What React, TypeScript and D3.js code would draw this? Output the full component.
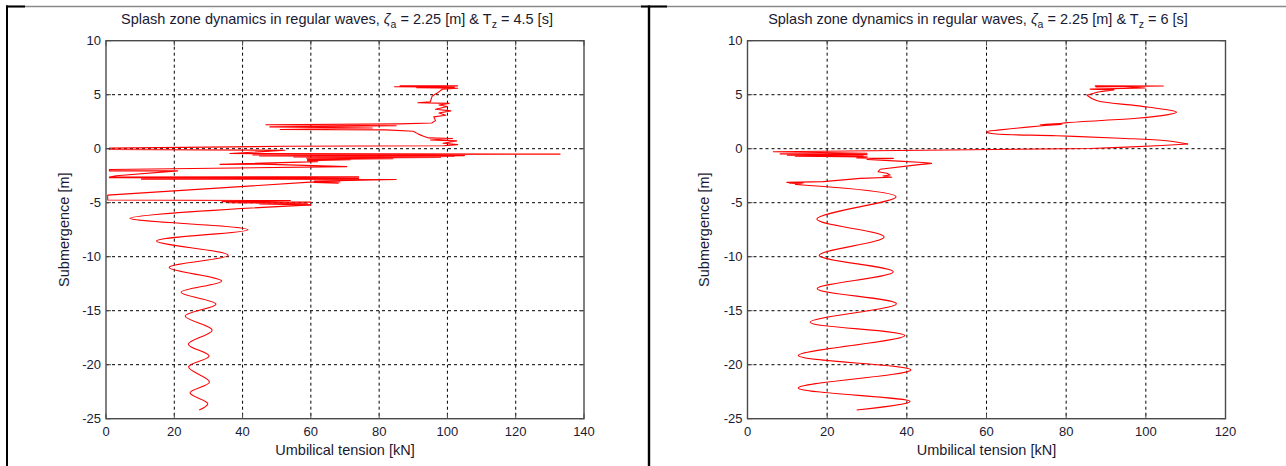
import React from "react";
import * as d3 from "d3";

type Pt = [number, number];

// ---------- data (tension kN, submergence m) ----------
const yTickValues = [10, 5, 0, -5, -10, -15, -20, -25];
const leftXTickValues = [0, 20, 40, 60, 80, 100, 120, 140];
const rightXTickValues = [0, 20, 40, 60, 80, 100, 120];

const leftTitleTz = "4.5";
const rightTitleTz = "6";

// left panel (Tz = 4.5 s): splash zone part (jagged) then submerged wave
const leftSplash: Pt[] = [
  [86, 5.82], [103, 5.82], [84.5, 5.74], [102, 5.7], [91, 5.64], [103, 5.6], [98.5, 5.5], [97, 5.15],
  [95.5, 4.85], [95, 4.35], [91.3, 4.25], [100.5, 4.2], [97.5, 4.05], [100, 3.9], [96.5, 3.65], [101, 3.5],
  [97.5, 3.3], [99.5, 3.1], [96, 2.95], [96.5, 2.6], [95.4, 2.38], [86, 2.3], [46.8, 2.22], [85, 2.12],
  [48, 2.02], [78, 1.92], [51, 1.78], [82, 1.74], [90, 1.62], [91.5, 1.35], [93, 1.15], [94.5, 1.0],
  [101.5, 0.95], [95, 0.8], [102.7, 0.72], [98.7, 0.5], [103, 0.38], [99, 0.27], [52.4, 0.22], [1, 0.05],
  [1, -0.08], [52.4, -0.14], [36.3, -0.45], [133, -0.5], [43, -0.58], [105, -0.64], [45, -0.68], [102, -0.72],
  [55, -0.77], [98, -0.8], [58.8, -0.88], [84, -0.92], [59, -1.0], [71.5, -1.02], [59, -1.1], [62, -1.2],
  [33.4, -1.45], [50, -1.44], [41, -1.38], [70.5, -1.66], [1, -1.93], [1, -2.05], [21, -2.05], [3, -2.5],
  [1, -2.63], [74, -2.6], [1, -2.68], [74, -2.72], [22.8, -2.76], [74, -2.79], [10.4, -2.82], [85, -2.85],
  [61, -3.0], [68.5, -3.08], [61, -3.13], [68, -3.2], [62, -3.05], [0.5, -4.3], [0.5, -4.75], [54, -4.8],
  [34, -4.9], [60, -4.95], [36, -5.0], [59, -5.05], [45, -5.12], [60, -5.2],
];
const leftWave: Pt[] = [
  [60, -5.2], [7, -6.45], [41.6, -7.5], [14.8, -8.55], [35.8, -9.87], [18.5, -11.0], [33.9, -12.25],
  [22, -13.3], [32.2, -14.4], [23.2, -15.5], [31.1, -16.8], [24.1, -18.1], [30.2, -19.2], [24.2, -20.2],
  [30.3, -21.6], [24.6, -22.6], [29.8, -23.6], [27.3, -24.2],
];

// right panel (Tz = 6 s)
const rightSplashTop: Pt[] = [
  [87.2, 5.82], [104.4, 5.8], [87.5, 5.72], [93.5, 5.76], [99.8, 5.62], [86, 5.52], [92, 5.45], [88, 5.25], [85.2, 4.95],
];
const rightWaveTop: Pt[] = [
  [85.2, 4.95], [87.6, 4.46], [97.7, 3.99], [106.5, 3.53], [107.7, 3.38], [105.2, 3.13], [97.7, 2.82],
  [83.5, 2.5], [78.9, 2.36], [73.4, 2.22], [79, 2.26], [73.4, 2.1], [63.4, 1.74], [60, 1.58], [60.9, 1.43],
  [77.6, 1.2], [93.5, 0.97], [105.2, 0.74], [110.6, 0.44],
];
const rightSplashMid: Pt[] = [
  [110.6, 0.44], [104, 0.3], [95, 0.15], [86, 0.02], [50, -0.12], [6.5, -0.28], [30, -0.42], [8.2, -0.48],
  [30, -0.55], [10, -0.6], [29, -0.66], [12, -0.7], [30, -0.76], [27.4, -0.86], [36.6, -0.9], [30, -1.0],
  [38, -1.15], [44, -1.28], [46.2, -1.36], [42.5, -1.5], [33.3, -1.9], [32.8, -2.13], [35, -2.28],
  [35.8, -2.44], [34, -2.53], [36.2, -2.65], [28.3, -2.75], [19, -3.05], [9.9, -3.12], [14, -3.16],
  [10.5, -3.2], [13.5, -3.26], [12, -3.32],
];
const rightWave: Pt[] = [
  [12, -3.32], [37.3, -4.45], [17.4, -6.52], [34.3, -8.17], [18, -9.87], [36.6, -11.4], [17.5, -12.96],
  [37.4, -14.35], [15.7, -16.06], [39.5, -17.3], [12.75, -19.15], [41, -20.48], [12.75, -22.15],
  [40.8, -23.4], [27.4, -24.2],
];

// ---------- drawing ----------
const W = 1286;
const H = 466;
const FONT = "'Liberation Sans', Arial, Helvetica, sans-serif";
const INK = "#1a1a33";
const BOX = "#4a4a4a";

interface Seg {
  pts: Pt[];
  smooth: boolean;
}

interface PanelProps {
  left: number;
  right: number;
  top: number;
  bottom: number;
  xMax: number;
  xTicks: number[];
  segs: Seg[];
  tz: string;
  titleX: number;
  yLabelX: number;
}

function Panel(p: PanelProps) {
  const x = d3.scaleLinear().domain([0, p.xMax]).range([p.left, p.right]);
  const y = d3.scaleLinear().domain([-25, 10]).range([p.bottom, p.top]);
  const lin = d3
    .line<Pt>()
    .x((d) => x(d[0]))
    .y((d) => y(d[1]));
  const smooth = d3
    .line<Pt>()
    .x((d) => x(d[0]))
    .y((d) => y(d[1]))
    .curve(d3.curveCatmullRom.alpha(0.5));
  const tl = 5;
  const cx = (p.left + p.right) / 2;
  const cy = (p.top + p.bottom) / 2;
  return (
    <g>
      {/* grid */}
      {p.xTicks
        .filter((t) => t > 0 && t < p.xMax)
        .map((t) => (
          <line key={"gx" + t} x1={x(t)} x2={x(t)} y1={p.top} y2={p.bottom} stroke="#000" strokeWidth={1} strokeDasharray="3,3" />
        ))}
      {yTickValues
        .filter((t) => t > -25 && t < 10)
        .map((t) => (
          <line key={"gy" + t} x1={p.left} x2={p.right} y1={y(t)} y2={y(t)} stroke="#000" strokeWidth={1} strokeDasharray="3,3" />
        ))}
      {/* data */}
      {p.segs.map((s, i) => (
        <path key={"s" + i} d={(s.smooth ? smooth : lin)(s.pts) || ""} fill="none" stroke="#ff0000" strokeWidth={1.1} strokeLinejoin="round" />
      ))}
      {/* ticks */}
      {p.xTicks.map((t) => (
        <g key={"tx" + t}>
          <line x1={x(t)} x2={x(t)} y1={p.bottom} y2={p.bottom - tl} stroke={BOX} strokeWidth={1} />
          <line x1={x(t)} x2={x(t)} y1={p.top} y2={p.top + tl} stroke={BOX} strokeWidth={1} />
          <text x={x(t)} y={p.bottom + 17} textAnchor="middle" fontSize={13} fill={INK} fontFamily={FONT}>
            {t}
          </text>
        </g>
      ))}
      {yTickValues.map((t) => (
        <g key={"ty" + t}>
          <line x1={p.left} x2={p.left + tl} y1={y(t)} y2={y(t)} stroke={BOX} strokeWidth={1} />
          <line x1={p.right} x2={p.right - tl} y1={y(t)} y2={y(t)} stroke={BOX} strokeWidth={1} />
          <text x={p.left - 5} y={y(t) + 4.7} textAnchor="end" fontSize={13} fill={INK} fontFamily={FONT}>
            {t}
          </text>
        </g>
      ))}
      {/* box */}
      <rect x={p.left} y={p.top} width={p.right - p.left} height={p.bottom - p.top} fill="none" stroke={BOX} strokeWidth={1.4} />
      {/* labels */}
      <text x={cx} y={455} textAnchor="middle" fontSize={14.5} fill={INK} fontFamily={FONT}>
        Umbilical tension [kN]
      </text>
      <text transform={`translate(${p.yLabelX},${cy}) rotate(-90)`} textAnchor="middle" fontSize={14.5} fill={INK} fontFamily={FONT}>
        Submergence [m]
      </text>
      <text x={p.titleX} y={24} textAnchor="middle" fontSize={14.5} fill={INK} fontFamily={FONT}>
        <tspan>Splash zone dynamics in regular waves, </tspan>
        <tspan fontStyle="italic">ζ</tspan>
        <tspan dy={4} fontSize={10.5}>a</tspan>
        <tspan dy={-4}> = 2.25 [m] &amp; T</tspan>
        <tspan dy={4} fontSize={10.5}>z</tspan>
        <tspan dy={-4}>{` = ${p.tz} [s]`}</tspan>
      </text>
    </g>
  );
}

export default function App() {
  return (
    <svg
      width={W}
      height={H}
      viewBox={`0 0 ${W} ${H}`}
      style={{ position: "absolute", left: 0, top: 0, background: "#fff" }}
    >
      <rect x={0} y={0} width={W} height={H} fill="#fff" />
      {/* page frame */}
      <line x1={7} x2={W} y1={6.5} y2={6.5} stroke="#8a8a8a" strokeWidth={1.5} />
      <line x1={6} x2={25} y1={6.5} y2={6.5} stroke="#000" strokeWidth={2} />
      <line x1={641} x2={667} y1={6.5} y2={6.5} stroke="#000" strokeWidth={2} />
      <line x1={7} x2={7} y1={5.5} y2={H} stroke="#000" strokeWidth={2} />
      <line x1={649} x2={649} y1={5.5} y2={H} stroke="#000" strokeWidth={2.4} />
      <Panel
        left={106}
        right={584}
        top={40.7}
        bottom={418.7}
        xMax={140}
        xTicks={leftXTickValues}
        segs={[
          { pts: leftSplash, smooth: false },
          { pts: leftWave, smooth: true },
        ]}
        tz={leftTitleTz}
        titleX={337}
        yLabelX={69}
      />
      <Panel
        left={747.5}
        right={1225.5}
        top={40.7}
        bottom={418.7}
        xMax={120}
        xTicks={rightXTickValues}
        segs={[
          { pts: rightSplashTop, smooth: false },
          { pts: rightWaveTop, smooth: true },
          { pts: rightSplashMid, smooth: false },
          { pts: rightWave, smooth: true },
        ]}
        tz={rightTitleTz}
        titleX={978}
        yLabelX={709}
      />
    </svg>
  );
}
